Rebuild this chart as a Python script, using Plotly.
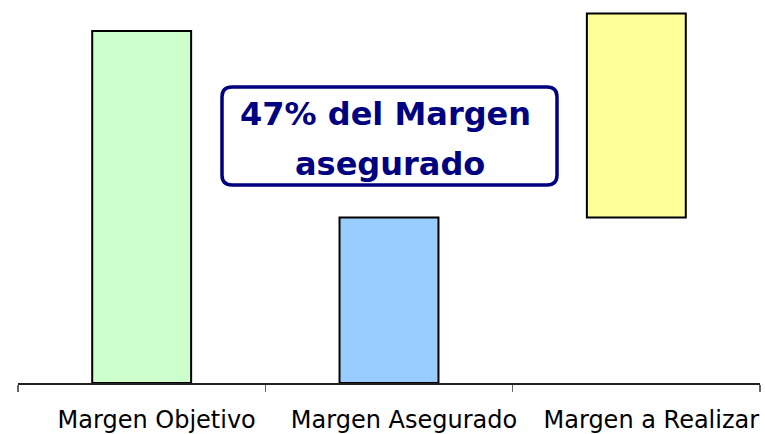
import plotly.graph_objects as go

categories = ["Margen Objetivo", "Margen Asegurado", "Margen a Realizar"]
bar_values = [100, 47, 58]
bar_bases = [0, 0, 47]
bar_colors = ["#CCFFCC", "#99CCFF", "#FFFF99"]
note_lines = ["47% del Margen", "asegurado"]

W, H = 765, 434
ML, MR, MT, MB = 18, 5, 0, 51
PW, PH = W - ML - MR, H - MT - MB

def px(x):
    return (x - ML) / PW

def py(y):
    return (H - MB - y) / PH

fig = go.Figure()
fig.add_trace(go.Bar(
    x=categories, y=bar_values, base=bar_bases,
    marker=dict(color=bar_colors, line=dict(color="#000000", width=2)),
    width=0.4, showlegend=False, hoverinfo="skip",
))

# rounded box
x0, x1, y0, y1, r = 222, 557, 87, 185, 10
path = (
    f"M {px(x0 + r)} {py(y0)} L {px(x1 - r)} {py(y0)} "
    f"Q {px(x1)} {py(y0)} {px(x1)} {py(y0 + r)} "
    f"L {px(x1)} {py(y1 - r)} Q {px(x1)} {py(y1)} {px(x1 - r)} {py(y1)} "
    f"L {px(x0 + r)} {py(y1)} Q {px(x0)} {py(y1)} {px(x0)} {py(y1 - r)} "
    f"L {px(x0)} {py(y0 + r)} Q {px(x0)} {py(y0)} {px(x0 + r)} {py(y0)} Z"
)
fig.add_shape(type="path", path=path, xref="paper", yref="paper",
              line=dict(color="#000080", width=3.5), fillcolor="#FFFFFF", layer="above")

for txt, cx, cy in [(note_lines[0], 385, 114), (note_lines[1], 389.5, 164)]:
    fig.add_annotation(x=px(cx), y=py(cy), xref="paper", yref="paper",
                       text=f"<b>{txt}</b>", showarrow=False,
                       xanchor="center", yanchor="middle",
                       font=dict(family="DejaVu Sans", size=32, color="#000080"))

fig.update_layout(
    width=W, height=H, margin=dict(l=ML, r=MR, t=MT, b=MB),
    paper_bgcolor="white", plot_bgcolor="white",
    bargap=0.6,
    xaxis=dict(
        showline=True, linecolor="#222222", linewidth=1.5,
        ticks="outside", tickson="boundaries", ticklen=7, tickcolor="#666666", tickwidth=1.5,
        tickfont=dict(family="DejaVu Sans", size=24, color="#000000"),
        ticklabelshift=15, ticklabelstandoff=15,
        showgrid=False, zeroline=False, fixedrange=True,
    ),
    yaxis=dict(range=[0, 108.8], visible=False, showgrid=False, zeroline=False, fixedrange=True),
)

fig.write_html(
    "out.html",
    config={"displayModeBar": False, "staticPlot": True},
    post_script="document.body.style.margin='0px';document.body.style.overflow='hidden';document.documentElement.style.overflow='hidden';",
)
